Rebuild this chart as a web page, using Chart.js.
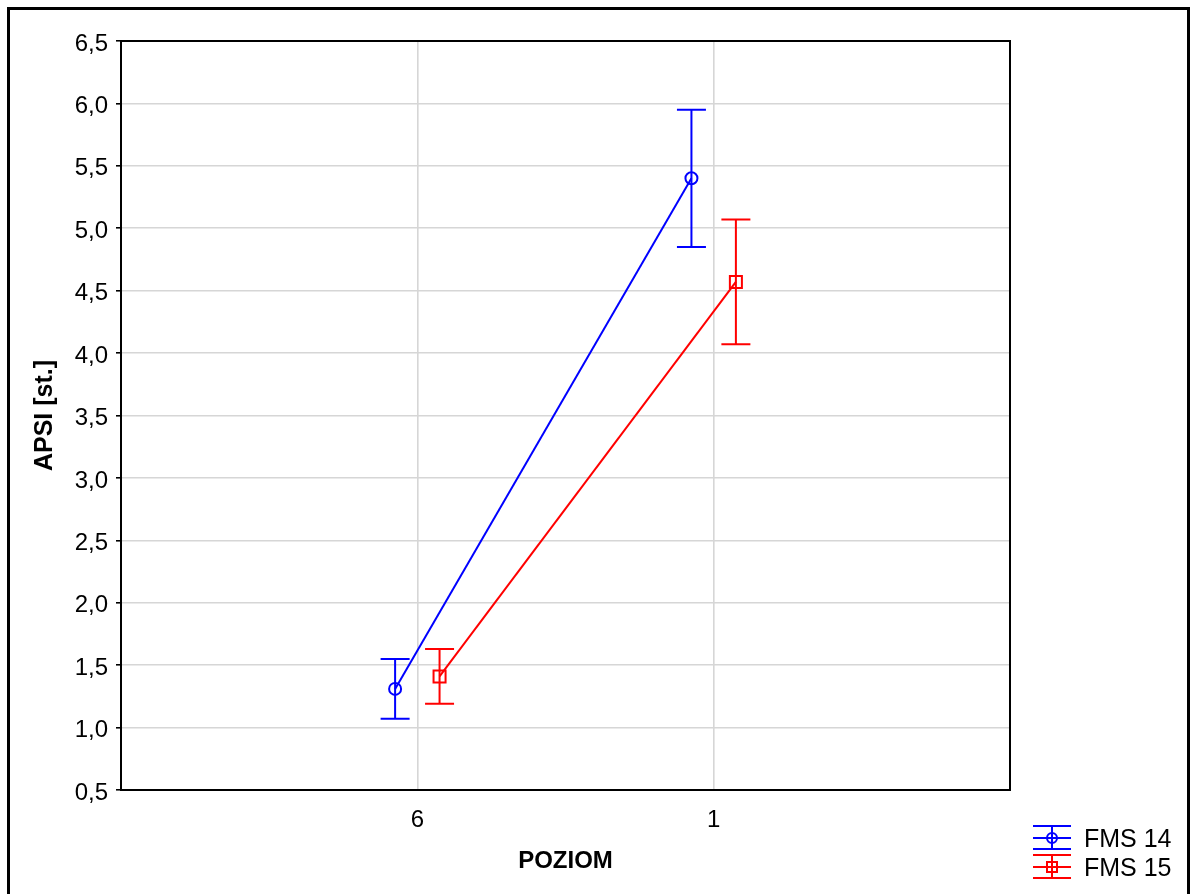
<!DOCTYPE html>
<html>
<head>
<meta charset="utf-8">
<title>APSI / POZIOM</title>
<script src="https://cdn.jsdelivr.net/npm/chart.js@4.4.0/dist/chart.umd.min.js"></script>
<style>
  html, body { margin: 0; padding: 0; background: #fff; }
  canvas { display: block; }
</style>
</head>
<body>
<canvas id="apsiChart" width="1191" height="894"></canvas>
<script>
// POZIOM levels, left to right
const levels = ['6', '1'];

// means and error half-widths per group
const fms14Mean = [1.31, 5.40];
const fms14Err = [0.24, 0.55];
const fms15Mean = [1.41, 4.57];
const fms15Err = [0.22, 0.50];

// value axis range
const yMin = 0.5;
const yMax = 6.5;
const yStep = 0.5;

const FONT = '"Liberation Sans", Arial, sans-serif';
const BLUE = '#0000ff';
const RED = '#ff0000';
const dodge = 0.075;   // shift of the two groups around each level

Chart.defaults.font.family = FONT;
Chart.defaults.color = '#000';

function pointsFor(means, shift) {
  return means.map((m, i) => ({ x: i + 1 + shift, y: m }));
}

// vertical error bars with caps, drawn on the library's scales
const errorBars = {
  id: 'errorBars',
  afterDatasetsDraw(chart) {
    const { ctx, scales: { x, y } } = chart;
    ctx.save();
    chart.data.datasets.forEach(ds => {
      ctx.strokeStyle = ds.borderColor;
      ctx.lineWidth = 2;
      ds.data.forEach((p, i) => {
        const px = x.getPixelForValue(p.x);
        const hi = y.getPixelForValue(p.y + ds.errors[i]);
        const lo = y.getPixelForValue(p.y - ds.errors[i]);
        ctx.beginPath();
        ctx.moveTo(px, hi); ctx.lineTo(px, lo);
        ctx.moveTo(px - 14.5, hi); ctx.lineTo(px + 14.5, hi);
        ctx.moveTo(px - 14.5, lo); ctx.lineTo(px + 14.5, lo);
        ctx.stroke();
      });
    });
    ctx.restore();
  }
};

// plot box, outer frame and the legend in the lower right corner
const frameAndLegend = {
  id: 'frameAndLegend',
  afterDraw(chart) {
    const { ctx, chartArea: a } = chart;
    ctx.save();
    ctx.strokeStyle = '#000';
    ctx.lineWidth = 2;
    ctx.strokeRect(a.left, a.top, a.right - a.left, a.bottom - a.top);

    ctx.lineWidth = 3;
    ctx.strokeRect(8.5, 8.5, 1180, 900);

    chart.data.datasets.forEach((ds, i) => {
      const cy = 838 + i * 29;
      const x0 = 1033, x1 = 1071, cx = (x0 + x1) / 2;
      ctx.strokeStyle = ds.borderColor;
      ctx.lineWidth = 2;
      ctx.beginPath();
      ctx.moveTo(x0, cy - 12); ctx.lineTo(x1, cy - 12);
      ctx.moveTo(x0, cy); ctx.lineTo(x1, cy);
      ctx.moveTo(x0, cy + 11); ctx.lineTo(x1, cy + 11);
      ctx.moveTo(cx, cy - 12); ctx.lineTo(cx, cy + 11);
      ctx.stroke();
      ctx.beginPath();
      if (ds.pointStyle === 'circle') ctx.arc(cx, cy, 5, 0, Math.PI * 2);
      else ctx.rect(cx - 5, cy - 5, 10, 10);
      ctx.stroke();

      ctx.fillStyle = '#000';
      ctx.font = '25px ' + FONT;
      ctx.textBaseline = 'middle';
      ctx.textAlign = 'left';
      ctx.fillText(ds.label, 1084, cy + 2);
    });
    ctx.restore();
  }
};

new Chart(document.getElementById('apsiChart'), {
  type: 'scatter',
  data: {
    datasets: [
      {
        label: 'FMS 14',
        data: pointsFor(fms14Mean, -dodge),
        errors: fms14Err,
        showLine: true,
        borderColor: BLUE,
        backgroundColor: 'rgba(0,0,0,0)',
        borderWidth: 2,
        pointStyle: 'circle',
        pointRadius: 6,
        pointBorderWidth: 2
      },
      {
        label: 'FMS 15',
        data: pointsFor(fms15Mean, dodge),
        errors: fms15Err,
        showLine: true,
        borderColor: RED,
        backgroundColor: 'rgba(0,0,0,0)',
        borderWidth: 2,
        pointStyle: 'rect',
        pointRadius: 8.5,
        pointBorderWidth: 2
      }
    ]
  },
  options: {
    responsive: false,
    animation: false,
    layout: { padding: { left: 20, top: 41, right: 181, bottom: 0 } },
    plugins: { legend: { display: false }, tooltip: { enabled: false } },
    scales: {
      x: {
        type: 'linear',
        min: 0,
        max: levels.length + 1,
        afterBuildTicks: s => { s.ticks = levels.map((_, i) => ({ value: i + 1 })); },
        afterFit: s => { s.height = 104; },
        ticks: {
          callback: v => levels[v - 1],
          font: { size: 24 },
          padding: 16
        },
        grid: { color: '#d6d6d6', lineWidth: 1.6, drawTicks: false },
        border: { color: '#000', width: 2 },
        title: {
          display: true,
          text: 'POZIOM',
          font: { size: 24, weight: 'bold' },
          padding: { top: 0, bottom: 18 }
        }
      },
      y: {
        min: yMin,
        max: yMax,
        afterFit: s => { s.width = 101; },
        ticks: {
          stepSize: yStep,
          callback: v => v.toFixed(1).replace('.', ','),
          font: { size: 24 },
          padding: 8,
          labelOffset: 3
        },
        grid: { color: '#d6d6d6', lineWidth: 1.6, tickColor: '#000', tickLength: 5 },
        border: { color: '#000', width: 2 },
        title: {
          display: true,
          text: 'APSI [st.]',
          font: { size: 25, weight: 'bold' },
          padding: { top: 10, bottom: 0 }
        }
      }
    }
  },
  plugins: [errorBars, frameAndLegend]
});
</script>
</body>
</html>
